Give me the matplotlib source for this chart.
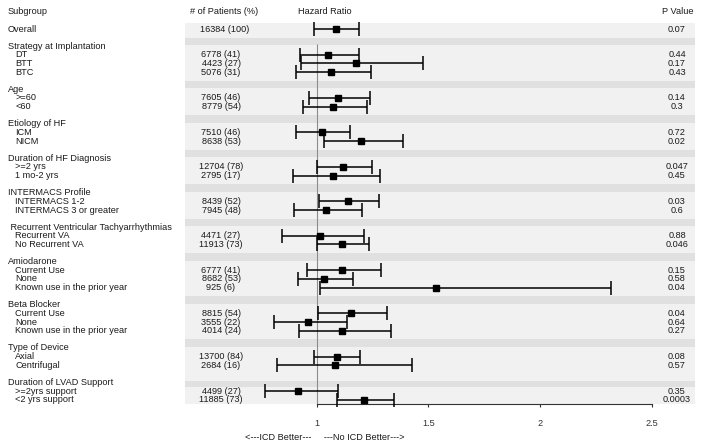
import matplotlib
matplotlib.use("Agg")
import matplotlib.pyplot as plt
import numpy as np

plt.rcParams['font.family'] = ['Liberation Sans', 'DejaVu Sans']

# ** data

group_names = ["Strategy at Implantation", "Age", "Etiology of HF", "Duration of HF Diagnosis",
               "INTERMACS Profile", " Recurrent Ventricular Tachyarrhythmias", "Amiodarone",
               "Beta Blocker", "Type of Device", "Duration of LVAD Support"]
group_sizes = [3, 2, 2, 2, 2, 2, 3, 3, 2, 2]

row_labels = ["Overall",
              "DT", "BTT", "BTC",
              ">=60", "<60",
              "ICM", "NICM",
              ">=2 yrs", "1 mo-2 yrs",
              "INTERMACS 1-2", "INTERMACS 3 or greater",
              "Recurrent VA", "No Recurrent VA",
              "Current Use", "None", "Known use in the prior year",
              "Current Use", "None", "Known use in the prior year",
              "Axial", "Centrifugal",
              ">=2yrs support", "<2 yrs support"]
n_patients = ["16384 (100)",
              "6778 (41)", "4423 (27)", "5076 (31)",
              "7605 (46)", "8779 (54)",
              "7510 (46)", "8638 (53)",
              "12704 (78)", "2795 (17)",
              "8439 (52)", "7945 (48)",
              "4471 (27)", "11913 (73)",
              "6777 (41)", "8682 (53)", "925 (6)",
              "8815 (54)", "3555 (22)", "4014 (24)",
              "13700 (84)", "2684 (16)",
              "4499 (27)", "11885 (73)"]
hr = [1.085,
      1.049, 1.174, 1.063,
      1.095, 1.073,
      1.024, 1.197,
      1.119, 1.073,
      1.139, 1.040,
      1.015, 1.113,
      1.113, 1.033, 1.535,
      1.152, 0.960, 1.113,
      1.089, 1.082,
      0.918, 1.213]
lower = [0.989,
         0.925, 0.930, 0.907,
         0.967, 0.940,
         0.907, 1.033,
         1.001, 0.893,
         1.010, 0.900,
         0.846, 1.001,
         0.958, 0.916, 1.013,
         1.007, 0.810, 0.922,
         0.987, 0.821,
         0.770, 1.092]
upper = [1.188,
         1.191, 1.474, 1.244,
         1.238, 1.227,
         1.149, 1.388,
         1.247, 1.283,
         1.279, 1.201,
         1.210, 1.234,
         1.286, 1.164, 2.317,
         1.313, 1.136, 1.334,
         1.195, 1.426,
         1.095, 1.347]
p_values = ["0.07",
            "0.44", "0.17", "0.43",
            "0.14", "0.3",
            "0.72", "0.02",
            "0.047", "0.45",
            "0.03", "0.6",
            "0.88", "0.046",
            "0.15", "0.58", "0.04",
            "0.04", "0.64", "0.27",
            "0.08", "0.57",
            "0.35", "0.0003"]
x_ticks = [1, 1.5, 2, 2.5]
x_tick_labels = ["1", "1.5", "2", "2.5"]

# ** layout: one row unit per text line

W, H = 713, 447
fig = plt.figure(figsize=(W / 100, H / 100), dpi=100)
ax = fig.add_axes([0, 0, 1, 1])

px_per_unit = 223.5   # pixels per HR unit
x_one = 316.7         # pixel x of HR = 1
row_h = 8.62          # pixels per row
y_first = 29.0        # pixel y of row 0

ax.set_xlim(1 - x_one / px_per_unit, 1 + (W - x_one) / px_per_unit)
ax.set_ylim((H - y_first) / row_h, -y_first / row_h)

def fx(p):
    return p / W

def ry(p):
    return (p - y_first) / row_h

T = ax.get_yaxis_transform()  # x axes-fraction, y data
fs = 6.6
tc = '#1a1a1a'
band_x0, band_x1 = fx(185), fx(695)
light, dark = '#f1f1f1', '#e0e0e0'

# row positions
item_rows = [0]
label_rows = []
r = 0
for size in group_sizes:
    r += 2
    label_rows.append(r)
    for k in range(size):
        r += 1
        item_rows.append(r)
last_row = r

# background bands
ax.axhspan(-0.66, 1.0, xmin=band_x0, xmax=band_x1, color=light, lw=0, zorder=0)
for i, lr in enumerate(label_rows):
    last = i + 1 == len(label_rows)
    end = last_row + 0.45 if last else label_rows[i + 1] - 1
    # the last separator sits a bit lower in the original
    d0, d1 = (lr - 0.2, lr + 0.55) if last else (lr - 1, lr - 0.12)
    ax.axhspan(d0, d1, xmin=band_x0, xmax=band_x1, color=dark, lw=0, zorder=0)
    ax.axhspan(d1, end, xmin=band_x0, xmax=band_x1, color=light, lw=0, zorder=0)
    if last:
        ax.axhspan(lr - 1, d0, xmin=band_x0, xmax=band_x1, color=light, lw=0, zorder=0)

# header
hy = ry(12)
ax.text(fx(8), hy, "Subgroup", transform=T, fontsize=fs, va='center', ha='left', color=tc)
ax.text(fx(224), hy, "# of Patients (%)", transform=T, fontsize=fs, va='center', ha='center', color=tc)
ax.text(fx(325), hy, "Hazard Ratio", transform=T, fontsize=fs, va='center', ha='center', color=tc)
ax.text(fx(693), hy, "P Value", transform=T, fontsize=fs, va='center', ha='right', color=tc)

# group labels
for name, lr in zip(group_names, label_rows):
    ax.text(fx(8), lr, name, transform=T, fontsize=fs, va='center', ha='left', color=tc)

# rows
for i, yr in enumerate(item_rows):
    indent = 8 if i == 0 else 15
    ax.text(fx(indent), yr, row_labels[i], transform=T, fontsize=fs, va='center', ha='left', color=tc)
    ax.text(fx(225 if i == 0 else 221), yr, n_patients[i], transform=T, fontsize=fs,
            va='center', ha='center', color=tc)
    ax.text(fx(677), yr, p_values[i], transform=T, fontsize=fs, va='center', ha='center', color=tc)

# reference line
ax.vlines(1, 1.7, last_row + 0.45, color='#8c8c8c', lw=0.8, zorder=1)

# hazard ratios with CI
hr = np.array(hr)
err = np.vstack([hr - np.array(lower), np.array(upper) - hr])
ax.errorbar(hr, item_rows, xerr=err, fmt='s', color='black', ms=4.3, elinewidth=1.1,
            capsize=4.8, capthick=1.1, zorder=3)

# x axis
for s in ['top', 'left', 'right']:
    ax.spines[s].set_visible(False)
ax.spines['bottom'].set_position(('data', last_row + 0.5))
ax.spines['bottom'].set_bounds(1, 2.5)
ax.spines['bottom'].set_linewidth(0.8)
ax.spines['bottom'].set_color('#333333')
ax.set_xticks(x_ticks)
ax.set_xticklabels(x_tick_labels, fontsize=fs, color=tc)
ax.tick_params(axis='x', direction='out', length=2.5, width=0.8, pad=8.5, colors='#333333')
ax.set_yticks([])

ax.text(fx(325), ry(437), "<---ICD Better---     ---No ICD Better--->", transform=T,
        fontsize=fs, va='center', ha='center', color=tc)

fig.savefig("out.png", dpi=100, facecolor='white')
